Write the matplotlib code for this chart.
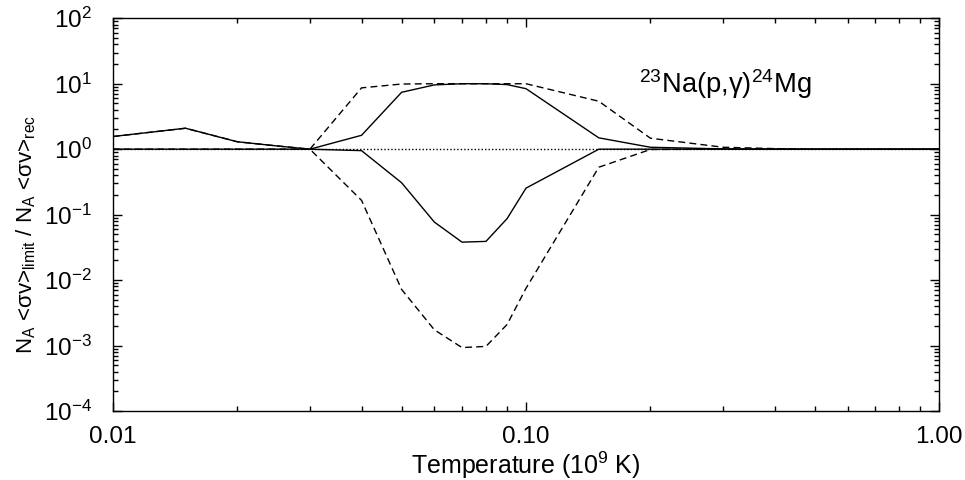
import matplotlib
matplotlib.use("Agg")
import matplotlib.pyplot as plt
from matplotlib.ticker import FixedLocator, FixedFormatter, LogLocator, NullFormatter

plt.rcParams['font.family'] = ['Liberation Sans', 'DejaVu Sans']
plt.rcParams['mathtext.fontset'] = 'custom'
plt.rcParams['mathtext.rm'] = 'Liberation Sans'
plt.rcParams['mathtext.it'] = 'Liberation Sans'
plt.rcParams['mathtext.default'] = 'regular'

# Temperature grid (10^9 K)
temp = [0.01, 0.015, 0.02, 0.025, 0.03, 0.04, 0.05, 0.06, 0.07, 0.08, 0.09,
        0.1, 0.15, 0.2, 0.3, 0.4, 0.5, 0.6, 0.7, 0.8, 0.9, 1.0]

# rate ratios
upper_solid = [1.56, 2.09, 1.30, 1.12, 1.0, 1.63, 7.4, 9.6, 10.0, 10.0, 9.7,
               8.4, 1.49, 1.07, 1.01, 1.0, 1.0, 1.0, 1.0, 1.0, 1.0, 1.0]
lower_solid = [1.0, 1.0, 1.0, 1.0, 1.0, 0.95, 0.307, 0.077, 0.038, 0.039, 0.087,
               0.254, 1.0, 1.0, 1.0, 1.0, 1.0, 1.0, 1.0, 1.0, 1.0, 1.0]
upper_dash = [1.56, 2.09, 1.30, 1.12, 1.0, 8.65, 9.9, 10.0, 10.0, 10.0, 10.0,
              10.0, 5.4, 1.47, 1.07, 1.02, 1.0, 1.0, 1.0, 1.0, 1.0, 1.0]
lower_dash = [1.0, 1.0, 1.0, 1.0, 1.0, 0.165, 0.0072, 0.00174, 0.00093, 0.00097, 0.0021,
              0.0075, 0.53, 0.99, 1.0, 1.0, 1.0, 1.0, 1.0, 1.0, 1.0, 1.0]

fig = plt.figure(figsize=(9.65, 4.8), dpi=100)
ax = fig.add_axes([0.1168, 0.1438, 0.8566, 0.8181])

ax.plot([0.01, 1.0], [1, 1], color='k', lw=1.0, linestyle=(0, (1, 1.5)))
ax.plot(temp, upper_solid, color='k', lw=1.0)
ax.plot(temp, lower_solid, color='k', lw=1.0)
ax.plot(temp, upper_dash, color='k', lw=1.0, linestyle=(0, (5, 3)))
ax.plot(temp, lower_dash, color='k', lw=1.0, linestyle=(0, (5, 3)))

ax.set_xscale('log')
ax.set_yscale('log')
ax.set_xlim(0.01, 1.0)
ax.set_ylim(1e-4, 1e2)

ax.xaxis.set_major_locator(FixedLocator([0.01, 0.1, 1.0]))
ax.xaxis.set_major_formatter(FixedFormatter(['0.01', '0.10', '1.00']))
ax.xaxis.set_minor_locator(LogLocator(base=10, subs=range(2, 10)))
ax.xaxis.set_minor_formatter(NullFormatter())
ax.yaxis.set_major_locator(LogLocator(base=10, numticks=10))
ax.yaxis.set_minor_locator(LogLocator(base=10, subs=range(2, 10), numticks=10))
ax.yaxis.set_minor_formatter(NullFormatter())

ax.tick_params(which='both', direction='in', top=True, right=True, width=1.0, labelsize=17.5)
ax.tick_params(which='major', length=6.5)
ax.tick_params(which='minor', length=3.6)
ax.tick_params(axis='x', which='major', pad=11)
ax.tick_params(axis='y', which='major', pad=15)
for s in ax.spines.values():
    s.set_linewidth(1.0)

ax.set_xlabel('Temperature (10$^{9}$ K)', fontsize=18)
ax.xaxis.set_label_coords(0.5, -0.098)
ax.set_ylabel('N$_A$ <σv>$_{limit}$ / N$_A$ <σv>$_{rec}$', fontsize=16)
ax.yaxis.set_label_coords(-0.09, 0.45)

ax.text(0.1875, 10, '$^{23}$Na(p,γ)$^{24}$Mg', fontsize=19.7, va='center', ha='left')

fig.savefig('out.png', dpi=100)
